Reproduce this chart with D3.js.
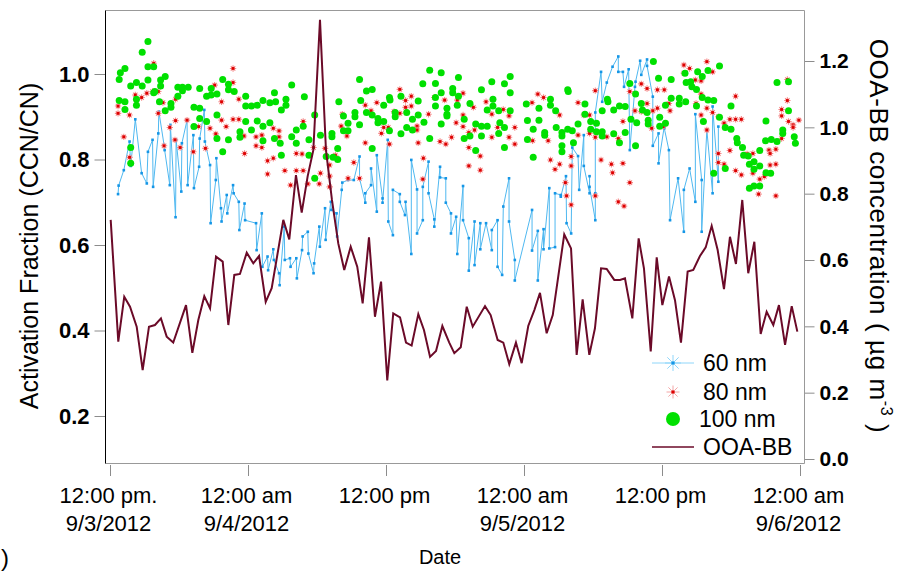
<!DOCTYPE html>
<html>
<head>
<meta charset="utf-8">
<script src="https://cdn.jsdelivr.net/npm/d3@7"></script>
<style>
body { margin: 0; background: #fff; }
text { font-family: "Liberation Sans", Arial, sans-serif; fill: #000; }
</style>
</head>
<body>
<div id="chart"></div>
<script>
// hours since 9/3/2012 00:00, activation fraction
var nm60 = [[12.7,0.719],[12.75,0.739],[13.2,0.775],[13.7,0.842],[13.8,0.785],[14.2,0.894],[14.75,0.768],[15.2,0.744],[15.3,0.818],[15.7,0.846],[15.75,0.736],[16.2,0.861],[16.25,0.912],[16.7,0.834],[16.75,0.822],[17.2,0.740],[17.25,0.881],[17.7,0.665],[17.75,0.846],[18.2,0.725],[18.25,0.838],[18.7,0.892],[18.75,0.740],[19.25,0.857],[19.3,0.733],[19.75,0.783],[19.8,0.849],[20.2,0.916],[20.25,0.842],[20.7,0.787],[20.75,0.651],[21.2,0.752],[21.25,0.803],[21.65,0.686],[21.7,0.655],[22.15,0.717],[22.2,0.674],[22.7,0.740],[22.75,0.721],[23.2,0.701],[23.25,0.635],[23.7,0.697],[23.75,0.658],[24.7,0.651],[24.75,0.588],[25.2,0.674],[25.25,0.549],[25.7,0.573],[25.75,0.541],[26.2,0.590],[26.25,0.565],[26.7,0.534],[26.75,0.506],[27.15,0.643],[27.2,0.565],[27.65,0.569],[27.7,0.549],[28.2,0.569],[28.25,0.522],[28.7,0.588],[28.75,0.620],[29.2,0.631],[29.25,0.580],[29.7,0.534],[29.75,0.557],[30.2,0.643],[30.25,0.596],[30.7,0.686],[30.75,0.612],[31.2,0.701],[31.25,0.682],[31.7,0.674],[31.75,0.620],[32.15,0.729],[32.2,0.746],[32.7,0.752],
  [33.2,0.752],[33.7,0.807],[33.7,0.756],[34.2,0.699],[34.2,0.721],[34.7,0.740],[34.7,0.779],[35.2,0.678],[35.2,0.810],[35.7,0.709],[35.7,0.699],[36.15,0.846],[36.2,0.655],[36.6,0.623],[36.6,0.729],[37.2,0.719],[37.2,0.701],[37.65,0.670],[37.7,0.701],[38.2,0.579],[38.2,0.799],[38.7,0.730],[38.7,0.627],[39.2,0.658],[39.2,0.736],[39.7,0.795],[39.7,0.721],[40.2,0.660],[40.2,0.643],[40.7,0.783],[40.7,0.758],[41.2,0.756],[41.2,0.699],[41.65,0.674],[41.65,0.627],[42.1,0.666],[42.2,0.579],[42.7,0.738],[42.7,0.658],[43.2,0.616],[43.2,0.540],[43.7,0.655],[43.7,0.553],[44.2,0.651],[44.2,0.590],[44.7,0.651],[45.2,0.588],[45.2,0.635],[45.7,0.658],[45.7,0.549],[46.1,0.530],[46.2,0.690],[46.7,0.756],[46.7,0.655],[47.2,0.565],[47.2,0.517],[48.7,0.682],[48.7,0.587],[49.2,0.633],[49.2,0.517],[49.7,0.637],[49.7,0.590],[50.2,0.733],[50.2,0.592],[50.7,0.595],[50.7,0.721],[51.2,0.717],[51.2,0.713],[51.65,0.761],[51.7,0.651],[52.1,0.627],[52.2,0.828],[52.7,0.808],[52.8,0.729],
  [53.2,0.857],[53.2,0.785],[53.7,0.721],[53.7,0.761],[53.7,0.736],[54.2,0.658],[54.2,0.721],[54.2,0.910],[54.7,1.005],[54.8,0.935],[55.2,0.980],[55.7,1.017],[56.2,1.041],[56.2,1.005],[56.6,1.005],[56.7,0.970],[57.1,1.011],[57.2,0.822],[57.65,0.970],[57.7,0.982],[58.1,1.031],[58.2,0.998],[58.7,1.034],[58.7,1.019],[59.2,0.947],[59.2,0.832],[59.7,0.861],[59.7,0.791],[60.2,0.878],[60.2,0.873],[60.6,0.822],[60.7,0.658],[61.4,0.756],[61.9,0.631],[61.9,0.729],[62.4,0.779],[62.9,0.701],[62.9,0.906],[63.45,0.752],[63.45,0.631],[63.9,0.869],[64.4,0.721],[64.4,0.924],[64.9,0.748],[64.9,0.877]];

var nm80 = [[12.7,0.925],[12.7,0.908],[13.2,0.853],[13.7,0.904],[13.7,0.805],[14.2,0.951],[14.3,0.939],[14.75,0.945],[15.2,0.955],[15.8,1.025],[15.7,0.959],[16.2,0.959],[16.2,0.908],[16.7,0.832],[16.6,0.933],[17.2,0.875],[17.7,0.941],[17.7,0.891],[17.65,0.846],[18.1,0.828],[18.7,0.892],[19.25,0.818],[19.7,0.877],[20.3,0.826],[20.7,0.873],[21.1,0.974],[21.2,0.860],[21.7,0.935],[21.7,0.892],[22.1,0.877],[22.7,0.894],[22.7,1.013],[22.7,0.980],[23.2,0.941],[23.2,0.894],[23.65,0.855],[23.7,0.814],[24.7,0.853],[24.7,0.832],[25.2,0.857],[25.2,0.828],[25.7,0.797],[25.7,0.766],[26.2,0.803],[26.2,0.873],[26.7,0.867],[26.7,0.853],[27.2,0.774],[27.7,0.740],[28.2,0.814],[28.2,0.774],[28.7,0.813],[28.8,0.889],[28.8,0.774],[29.2,0.743],[29.7,0.828],[30.3,0.768],[30.2,0.743],[30.7,0.826],[31.1,0.787],[31.1,0.761],[31.6,0.810],[32.1,0.878],[32.6,0.855],[32.7,0.756],
  [31.1,0.736],[32.2,0.906],[33.2,0.793],[33.7,0.756],[34.2,0.927],[34.2,0.839],[34.7,0.914],[35.2,0.933],[35.6,0.861],[35.8,0.875],[36.2,0.875],[36.3,0.836],[36.7,0.912],[37.2,0.964],[37.2,0.908],[37.7,0.938],[37.7,0.922],[38.2,0.925],[38.2,0.948],[38.7,0.878],[38.7,0.869],[38.8,0.839],[39.2,0.754],[39.25,0.803],[39.7,0.906],[40.2,0.945],[40.7,0.842],[41.1,0.939],[41.2,0.836],[41.7,0.852],[42.1,0.886],[42.2,0.939],[42.7,0.955],[42.7,0.904],[42.7,0.877],[43.2,0.828],[43.2,0.863],[43.6,0.922],[43.7,0.869],[44.2,0.808],[44.2,0.775],[43.2,0.785],[44.7,0.935],[45.2,0.852],[45.2,0.906],[45.7,0.875],[46.2,0.917],[46.7,0.902],[46.7,0.852],[47.2,0.875],[47.2,0.836],[48.7,0.933],[48.75,0.844],[49.2,0.953],[49.7,0.945],[50.1,0.844],[50.3,0.799],[50.7,0.777],[51.1,0.904],[51.1,0.789],[51.6,0.746],[51.7,0.715],[52.1,0.785],[52.1,0.694],[52.7,0.933],
  [52.1,0.807],[52.7,0.857],[53.2,0.904],[53.7,0.904],[53.7,0.861],[54.2,0.852],[54.2,0.715],[54.2,0.961],[54.7,0.799],[55.2,0.853],[55.6,0.789],[55.7,0.769],[56.2,0.849],[56.2,0.701],[56.6,0.791],[56.7,0.691],[56.6,0.889],[57.2,0.959],[57.2,0.746],[57.65,0.914],[58.2,0.977],[58.2,0.912],[58.7,0.966],[58.7,0.931],[59.1,0.873],[59.2,0.914],[59.6,0.920],[59.6,0.963],[60.1,0.877],[60.2,0.963],[60.6,0.931],[60.7,0.914],[61.9,1.021],[61.9,1.002],[62.4,1.013],[62.9,0.986],[62.96,0.931],[63.4,0.984],[63.4,0.904],[63.4,0.953],[63.9,1.029],[63.9,0.920],[63.9,0.869],[64.4,1.005],[64.4,0.910],[64.9,0.900],[64.9,0.814],[64.9,0.793],[65.4,0.885],[65.4,0.789],[65.9,0.894],[65.9,0.821],[66.4,0.948],[66.4,0.894],[66.4,0.774],[66.9,0.894],[66.9,0.764],[67.4,0.813],[67.9,0.814],[67.9,0.768],[68.4,0.719],[68.5,0.754],[68.9,0.760],[69.3,0.822],[69.4,0.814],[69.4,0.787],[69.9,0.824],[69.9,0.789],[69.9,0.715],[70.4,0.902],[70.4,0.917],[70.4,0.849],[70.9,0.987],[70.9,0.938],[71.0,0.889],[71.4,0.881],[71.4,0.875],[71.9,0.892]];

var nm100 = [[12.8,0.987],[12.9,1.003],[13.3,1.013],[12.8,0.938],[13.3,0.935],[13.3,0.917],[13.8,0.828],[13.8,0.791],[13.8,0.972],[14.3,0.980],[14.3,0.941],[14.3,0.927],[14.8,0.972],[14.8,1.051],[15.3,1.076],[15.3,1.017],[15.8,1.017],[15.3,0.986],[15.9,0.959],[15.8,0.956],[16.4,0.986],[16.4,0.972],[16.3,0.935],[16.8,0.994],[16.8,0.914],[17.3,0.931],[17.3,0.922],[17.9,0.969],[17.9,0.948],[18.3,0.969],[18.3,0.961],[18.8,0.969],[19.3,0.922],[19.3,0.877],[19.8,0.920],[19.8,0.896],[19.8,0.966],[20.4,0.889],[20.4,0.948],[20.8,0.966],[20.8,0.951],[21.3,0.953],[21.3,0.904],[21.3,0.849],[21.8,0.987],[21.8,0.818],[22.3,0.976],[22.3,0.963],[22.3,0.846],[22.8,0.959],[23.3,0.865],[23.3,0.852],[23.8,0.948],[23.8,0.889],[23.8,0.925],[24.3,0.925],[24.3,0.869],[24.8,0.927],[24.8,0.890],[25.3,0.938],[25.3,0.878],[25.3,0.844],[25.9,0.933],[25.9,0.886],[26.3,0.956],[26.3,0.849],[26.4,0.935],[26.8,0.838],[26.9,0.916],[26.9,0.810],[27.3,0.927],[27.3,0.941],[27.8,0.974],[27.8,0.853],[28.2,0.838],[28.2,0.869],[28.8,0.878],[28.9,0.947],[29.3,0.846],[29.3,0.810],[29.8,0.904],[29.8,0.756],[30.3,0.857],[30.8,0.807],[31.3,0.861],[31.4,0.805],[31.8,0.826],[31.8,0.800],[31.9,0.935],[32.3,0.902],[32.3,0.867],[32.7,0.885],[32.7,0.867],
  [31.3,0.853],[33.3,0.910],[33.3,0.900],[33.7,0.987],[33.7,0.881],[33.8,0.938],[34.3,0.960],[34.3,0.910],[34.8,0.964],[34.8,0.826],[34.8,0.904],[35.3,0.896],[35.3,0.886],[35.8,0.927],[35.8,0.889],[36.3,0.945],[36.35,0.939],[36.3,0.867],[36.8,0.910],[36.8,0.900],[37.3,0.948],[37.3,0.860],[37.8,0.910],[37.8,0.875],[38.3,0.894],[38.3,0.869],[38.8,0.937],[38.8,0.904],[39.2,0.977],[39.3,0.887],[39.8,1.009],[39.8,0.849],[40.3,0.978],[40.3,0.945],[40.3,0.925],[40.8,1.003],[40.8,0.956],[40.8,0.883],[41.3,0.920],[41.3,0.906],[41.3,0.902],[41.8,0.966],[41.8,0.956],[42.2,0.927],[42.3,0.992],[42.3,0.948],[42.8,0.894],[42.8,0.849],[43.3,0.931],[43.3,0.855],[43.8,0.883],[43.8,0.821],[44.3,0.963],[44.3,0.878],[44.3,0.855],[44.8,0.916],[44.8,0.878],[45.2,0.982],[45.3,0.941],[45.3,0.925],[45.8,0.914],[45.8,0.861],[45.9,0.886],[46.3,0.977],[46.3,0.875],[46.3,0.828],[46.8,0.994],[46.8,0.956],[46.8,0.914],[48.2,0.930],[48.3,0.891],[48.3,0.847],[48.8,0.871],[48.8,0.805],[49.3,0.920],[49.3,0.892],[49.8,0.863],[49.8,0.857],[50.3,0.941],[50.3,0.927],[50.75,0.914],[50.8,0.875],[51.3,0.863],[51.3,0.855],[51.3,0.832],[51.3,0.818],[51.8,0.963],[51.8,0.871],[52.2,0.867],[52.3,0.839],[52.7,0.883],
  [51.85,0.959],[53.3,0.930],[53.3,0.906],[53.8,0.889],[53.8,0.871],[54.3,0.885],[54.3,0.865],[54.8,0.914],[54.8,0.865],[54.8,0.855],[55.25,0.941],[55.3,0.935],[55.8,0.916],[55.8,0.860],[56.3,0.925],[56.3,0.839],[56.8,0.924],[56.8,0.863],[57.2,0.978],[57.3,0.894],[57.7,0.953],[57.8,0.886],[57.7,0.832],[58.2,0.931],[58.3,0.916],[58.8,0.892],[58.8,0.883],[58.7,0.910],[59.25,1.029],[59.7,0.990],[59.8,0.899],[59.8,0.878],[60.3,0.927],[60.3,0.885],[60.8,0.943],[60.8,0.987],[61.5,0.943],[61.5,0.930],[62.0,1.002],[62.06,0.935],[62.1,0.980],[62.5,0.982],[62.6,0.970],[63.0,0.964],[63.0,0.925],[63.1,1.005],[63.5,0.994],[63.5,0.945],[63.6,0.889],[64.0,1.008],[64.0,0.939],[64.5,0.938],[64.5,0.768],[65.0,1.019],[65.0,0.899],[65.5,0.875],[65.5,0.779],[66.0,0.925],[66.0,0.871],[66.5,0.849],[66.55,0.839],[67.0,0.828],[67.1,0.810],[67.5,0.808],[67.6,0.789],[67.6,0.733],[68.0,0.795],[68.0,0.777],[68.0,0.738],[68.5,0.821],[68.5,0.785],[68.5,0.738],[69.0,0.844],[69.04,0.769],[69.04,0.890],[69.45,0.768],[69.5,0.847],[70.0,0.842],[70.0,0.980],[70.5,0.869],[70.5,0.861],[71.0,0.982],[71.0,0.914],[71.5,0.853],[71.6,0.838]];

// OOA-BB concentration, ug m-3 (right axis)
var ooaBB = [[12.06,0.721],[12.72,0.354],[13.24,0.489],[13.74,0.459],[14.32,0.399],[14.84,0.268],[15.39,0.399],[15.91,0.404],[16.43,0.424],[16.93,0.369],[17.50,0.351],[18.61,0.464],[19.16,0.320],[19.68,0.419],[20.20,0.491],[20.70,0.454],[21.22,0.610],[21.80,0.595],[22.29,0.404],[22.81,0.555],[23.30,0.558],[23.89,0.622],[24.46,0.590],[24.96,0.612],[25.54,0.474],[26.06,0.515],[27.07,0.721],[27.59,0.662],[28.17,0.856],[28.67,0.743],[29.19,0.853],[29.68,0.931],[30.26,1.324],[30.78,0.931],[31.30,0.781],[31.85,0.650],[32.37,0.570],[32.93,0.640],[33.50,0.580],[33.97,0.469],[34.52,0.668],[35.04,0.429],[35.57,0.535],[36.11,0.237],[36.63,0.439],[37.22,0.427],[37.74,0.351],[38.23,0.342],[38.81,0.437],[39.30,0.389],[39.83,0.308],[40.35,0.326],[40.90,0.401],[41.50,0.351],[41.94,0.319],[42.50,0.337],[43.02,0.459],[43.54,0.399],[44.61,0.461],[45.10,0.434],[45.71,0.359],[46.20,0.351],[46.72,0.286],[47.30,0.351],[47.80,0.289],[48.37,0.401],[48.90,0.449],[49.39,0.501],[49.97,0.379],[50.50,0.434],[51.50,0.677],[52.09,0.635],[52.58,0.314],[53.10,0.481],[53.68,0.314],[54.17,0.394],[54.70,0.575],[55.19,0.573],[55.85,0.540],[56.35,0.540],[56.78,0.545],[57.42,0.424],[57.97,0.665],[58.43,0.575],[59.02,0.324],[59.54,0.608],[60.03,0.464],[60.61,0.550],[61.13,0.479],[61.65,0.351],[62.23,0.565],[62.72,0.570],[63.30,0.612],[63.80,0.638],[64.32,0.703],[64.84,0.630],[65.39,0.512],[65.91,0.670],[66.43,0.588],[66.98,0.781],[67.50,0.560],[68.03,0.655],[68.58,0.377],[69.10,0.444],[69.68,0.404],[70.17,0.464],[70.70,0.344],[71.28,0.461],[71.77,0.384]];

var xTicks = [12, 24, 36, 48, 60, 72],
    xTimeLabels = ['12:00 pm.', '12:00 am', '12:00 pm', '12:00 am', '12:00 pm', '12:00 am'],
    xDateLabels = ['9/3/2012', '9/4/2012', '', '9/5/2012', '', '9/6/2012'],
    yLeftTicks = [0.2, 0.4, 0.6, 0.8, 1.0],
    yRightTicks = [0, 0.2, 0.4, 0.6, 0.8, 1.0, 1.2];

var width = 909, height = 572,
    frame = {left: 105.5, right: 804.5, top: 10.5, bottom: 463.5};

var svg = d3.select('#chart').append('svg')
    .attr('width', width)
    .attr('height', height);

var x = d3.scaleLinear().domain([12, 72]).range([110, 800]);
var yL = d3.scaleLinear().domain([0.2, 1.0]).range([416, 74]);
var yR = d3.scaleLinear().domain([0, 1.2]).range([459, 61]);

svg.append('clipPath').attr('id', 'clip')
  .append('rect')
    .attr('x', frame.left).attr('y', frame.top)
    .attr('width', frame.right - frame.left).attr('height', frame.bottom - frame.top);

function star(r, arms) {
  var p = '';
  for (var i = 0; i < arms; i++) {
    var a = Math.PI * i / arms;
    p += 'M' + (-r * Math.cos(a)) + ',' + (-r * Math.sin(a)) + 'L' + (r * Math.cos(a)) + ',' + (r * Math.sin(a));
  }
  return p;
}

// axes
var leftAxis = svg.append('g')
    .attr('transform', 'translate(' + frame.left + ',0)')
    .call(d3.axisLeft(yL).tickValues(yLeftTicks).tickSize(11).tickPadding(5).tickFormat(d3.format('.1f')));

var rightAxis = svg.append('g')
    .attr('transform', 'translate(' + frame.right + ',0)')
    .call(d3.axisRight(yR).tickValues(yRightTicks).tickSize(10).tickPadding(5).tickFormat(d3.format('.1f')));

var bottomAxis = svg.append('g')
    .attr('transform', 'translate(0,465)')
    .call(d3.axisBottom(x).tickValues(xTicks).tickSize(11).tickFormat(''));

[leftAxis, rightAxis, bottomAxis].forEach(function(g) {
  g.select('.domain').remove();
  g.selectAll('.tick line').attr('stroke', '#8c8c8c');
  g.selectAll('.tick text')
    .attr('fill', '#000')
    .style('font-family', '"Liberation Sans", Arial, sans-serif')
    .style('font-size', '22px')
    .style('font-weight', 'bold');
});
rightAxis.selectAll('.tick text').style('font-size', '21px');

bottomAxis.selectAll('.tick')
  .append('text')
    .attr('x', -2).attr('y', 38)
    .attr('text-anchor', 'middle')
    .style('font-size', '22px')
    .text(function(d, i) { return xTimeLabels[i]; });

bottomAxis.selectAll('.tick')
  .append('text')
    .attr('x', -2).attr('y', 66)
    .attr('text-anchor', 'middle')
    .style('font-size', '22px')
    .text(function(d, i) { return xDateLabels[i]; });

// frame
svg.append('path')
    .attr('d', 'M' + frame.left + ',' + frame.top + 'H' + frame.right + 'V' + frame.bottom + 'H' + frame.left)
    .attr('fill', 'none')
    .attr('stroke', '#999');
svg.append('line')
    .attr('x1', frame.left).attr('x2', frame.left)
    .attr('y1', frame.top).attr('y2', frame.bottom)
    .attr('stroke', '#000');

var plot = svg.append('g').attr('clip-path', 'url(#clip)');

// 60 nm
plot.append('path')
    .datum(nm60)
    .attr('fill', 'none')
    .attr('stroke', '#4fb8f0')
    .attr('stroke-width', 1)
    .attr('d', d3.line().x(function(d) { return x(d[0]); }).y(function(d) { return yL(d[1]); }));

plot.selectAll('rect.p60')
  .data(nm60)
  .enter().append('rect')
    .attr('class', 'p60')
    .attr('x', function(d) { return x(d[0]) - 1.3; })
    .attr('y', function(d) { return yL(d[1]) - 1.3; })
    .attr('width', 2.6).attr('height', 2.6)
    .attr('fill', '#1596e6');

// 80 nm
var p80 = plot.selectAll('g.p80')
  .data(nm80)
  .enter().append('g')
    .attr('class', 'p80')
    .attr('transform', function(d) { return 'translate(' + x(d[0]) + ',' + yL(d[1]) + ')'; });
p80.append('path').attr('d', star(3.2, 4)).attr('stroke', '#f58a8a').attr('stroke-width', 1.1);
p80.append('rect').attr('x', -1.4).attr('y', -1.4).attr('width', 2.8).attr('height', 2.8).attr('fill', '#dd0000');

// 100 nm
plot.selectAll('circle.p100')
  .data(nm100)
  .enter().append('circle')
    .attr('class', 'p100')
    .attr('cx', function(d) { return x(d[0]); })
    .attr('cy', function(d) { return yL(d[1]); })
    .attr('r', 3.5)
    .attr('fill', '#00e000');

// OOA-BB
plot.append('path')
    .datum(ooaBB)
    .attr('fill', 'none')
    .attr('stroke', '#6b0a28')
    .attr('stroke-width', 2)
    .attr('d', d3.line().x(function(d) { return x(d[0]); }).y(function(d) { return yR(d[1]); }));

// legend
var legend = svg.append('g').style('font-size', '23px');
var rows = [363, 392, 419, 447];

legend.append('line').attr('x1', 652).attr('x2', 694).attr('y1', rows[0]).attr('y2', rows[0]).attr('stroke', '#8fd6fa');
legend.append('path').attr('transform', 'translate(673,' + rows[0] + ')').attr('d', star(8, 4)).attr('stroke', '#8fd6fa');
legend.append('circle').attr('cx', 673).attr('cy', rows[0]).attr('r', 1.8).attr('fill', '#1596e6');

legend.append('path').attr('transform', 'translate(673,' + rows[1] + ')').attr('d', star(6.5, 4)).attr('stroke', '#f4a6a6');
legend.append('circle').attr('cx', 673).attr('cy', rows[1]).attr('r', 1.8).attr('fill', '#dd0000');

legend.append('circle').attr('cx', 673).attr('cy', rows[2]).attr('r', 7).attr('fill', '#00e000');

legend.append('line').attr('x1', 652).attr('x2', 694).attr('y1', rows[3]).attr('y2', rows[3]).attr('stroke', '#6b0a28').attr('stroke-width', 1.5);

legend.selectAll('text')
  .data(['60 nm', '80 nm', '100 nm', 'OOA-BB'])
  .enter().append('text')
    .attr('x', function(d, i) { return i == 2 ? 699 : 703; })
    .attr('y', function(d, i) { return rows[i]; })
    .attr('dy', '0.36em')
    .text(function(d) { return d; });

// titles
svg.append('text')
    .attr('transform', 'translate(38,246) rotate(-90)')
    .attr('text-anchor', 'middle')
    .style('font-size', '25px')
    .text('Activation Fraction (CCN/CN)');

var rTitle = svg.append('text')
    .attr('transform', 'translate(870,236) rotate(90)')
    .attr('text-anchor', 'middle')
    .style('font-size', '26px')
    .style('letter-spacing', '0.6px');
rTitle.append('tspan').text('OOA-BB concentration ( \u00b5g m');
rTitle.append('tspan').attr('dy', -11).style('font-size', '16px').text('-3');
rTitle.append('tspan').attr('dy', 11).text(' )');

svg.append('text')
    .attr('x', 440).attr('y', 564)
    .attr('text-anchor', 'middle')
    .style('font-size', '20px')
    .text('Date');

svg.append('text')
    .attr('x', 1).attr('y', 566)
    .style('font-size', '24px')
    .text(')');
</script>
</body>
</html>
